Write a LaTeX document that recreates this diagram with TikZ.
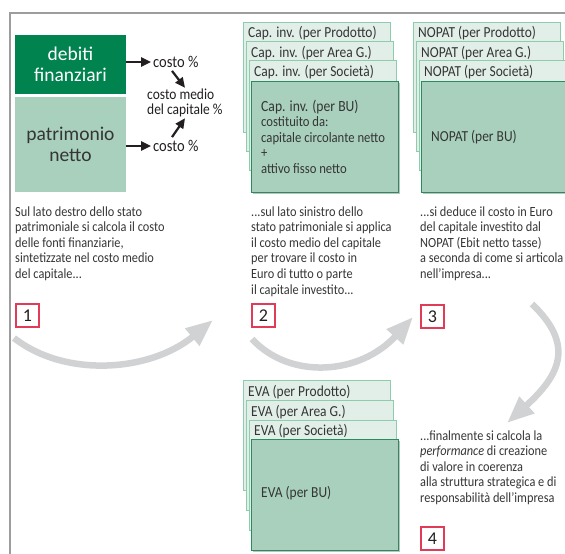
\documentclass[tikz,border=0pt]{standalone}
\usepackage{fontspec}
\setmainfont{Carlito}[FakeStretch=0.88]
\newfontfamily\bigfont{Carlito}
\usetikzlibrary{arrows.meta,shadows,calc}
\definecolor{dkgreen}{HTML}{00834F}
\definecolor{midgreen}{HTML}{A8D0BD}
\definecolor{palegreen}{HTML}{E1EFE8}
\definecolor{edgegreen}{HTML}{8FCCAD}
\definecolor{bugreen}{HTML}{2A8C5E}
\definecolor{numred}{HTML}{E03C58}
\definecolor{arrgray}{HTML}{D1D2D4}
\definecolor{framegray}{HTML}{9D9D9D}
\definecolor{txt}{HTML}{353535}
\definecolor{blk}{HTML}{231F20}
\tikzset{
  backbox/.style={draw=edgegreen, fill=palegreen, line width=0.9pt, anchor=north west,
    minimum width=147pt, minimum height=110pt, inner sep=0pt, outer sep=0pt},
  bubox/.style={draw=bugreen, fill=midgreen, line width=1pt, anchor=north west,
    minimum width=147pt, minimum height=111pt, inner sep=0pt, outer sep=0pt,
    drop shadow={shadow xshift=1.5pt, shadow yshift=-2pt, opacity=0.35, fill=black!70}},
  hdr/.style={anchor=base west, inner sep=0pt, text=txt, font=\fontsize{15.3}{15.3}\selectfont},
  butext/.style={anchor=base west, inner sep=0pt, text=txt, align=left, font=\fontsize{14.4}{15.5}\selectfont},
  para/.style={anchor=base west, inner sep=0pt, text=txt, align=left, font=\fontsize{14}{15.6}\selectfont},
  numbox/.style={draw=numred, line width=1.7pt, anchor=north west, minimum size=23pt,
    inner sep=0pt, text=blk, font=\bigfont\fontsize{18}{18}\selectfont},
  bigbox/.style={anchor=north west, minimum width=111pt, inner sep=0pt, outer sep=0pt,
    align=center, font=\bigfont\fontsize{19.5}{20.5}\selectfont},
  small/.style={inner sep=0pt, text=blk, font=\fontsize{16.5}{14}\selectfont},
  blkarrow/.style={draw=blk, line width=2.4pt, -{Triangle[length=10pt,width=9pt]}},
  bigarrow/.style={draw=arrgray, line width=6.5pt, -{Triangle[length=27pt,width=21pt]}},
}
\begin{document}
\begin{tikzpicture}[x=1pt,y=-1pt]
\useasboundingbox (0,0) rectangle (565,554);
\clip (0,0) rectangle (565,554);
% frame
\draw[framegray, line width=1.3pt] (566,13) -- (10,13) -- (10,555);

% ---- section 1
\node[bigbox, fill=dkgreen, text=white, minimum height=59pt] (debiti) at (15,35) {debiti\\finanziari};
\node[bigbox, fill=midgreen, text=txt, minimum height=95pt] (patr) at (15,97) {patrimonio\\netto};
\node[small, anchor=west] (c1) at (153,62) {costo \%};
\node[small, anchor=west] (c2) at (153,146) {costo \%};
\node[small, anchor=west, align=left, font=\fontsize{15.3}{15}\selectfont] (cm) at (147,103) {costo medio\\del capitale \%};
\draw[blkarrow, shorten >=2pt] (debiti.east |- c1.west) -- (c1.west);
\draw[blkarrow, shorten >=2pt] (patr.east |- c2.west) -- (c2.west);
\draw[blkarrow, line width=2.2pt] ([shift={(19,3)}]c1.south west) -- ([shift={(38,-1)}]cm.north west);
\draw[blkarrow, line width=2.2pt] ([shift={(19,-3)}]c2.north west) -- ([shift={(38,1)}]cm.south west);

% multi-line nodes: base anchor is the baseline of the last line
\node[para] (p1) at (15,278.4) {Sul lato destro dello stato\\patrimoniale si calcola il costo\\delle fonti finanziarie,\\sintetizzate nel costo medio\\del capitale...};
\node[numbox] (n1) at (15,303) {1};

% ---- section 2: capitale investito
\node[backbox] (capP) at (243,22) {};
\node[hdr] (capPt) at (248,37.5) {Cap. inv. (per Prodotto)};
\node[backbox] (capA) at (246,41) {};
\node[hdr] (capAt) at (251,57) {Cap. inv. (per Area G.)};
\node[backbox] (capS) at (249,60) {};
\node[hdr] (capSt) at (254,76) {Cap. inv. (per Società)};
\node[bubox] (capBU) at (251,81) {};
\node[butext] (capBUt) at (261,173) {{\fontsize{15.5}{15.5}\selectfont Cap. inv. (per BU)}\\costituito da:\\capitale circolante netto\\+\\attivo fisso netto};

\node[para] (p2) at (251,294) {...sul lato sinistro dello\\stato patrimoniale si applica\\il costo medio del capitale\\per trovare il costo in\\Euro di tutto o parte\\il capitale investito...};
\node[numbox] (n2) at (251,303) {2};

% ---- section 3: NOPAT
\node[backbox] (nopP) at (413,22) {};
\node[hdr] (nopPt) at (418,37.5) {NOPAT (per Prodotto)};
\node[backbox] (nopA) at (416,41) {};
\node[hdr] (nopAt) at (421,57) {NOPAT (per Area G.)};
\node[backbox] (nopS) at (419,60) {};
\node[hdr] (nopSt) at (424,76) {NOPAT (per Società)};
\node[bubox, minimum width=170pt] (nopBU) at (421,81) {};
\node[hdr] (nopBUt) at (431,141) {NOPAT (per BU)};

\node[para] (p3) at (420,278.4) {...si deduce il costo in Euro\\del capitale investito dal\\NOPAT (Ebit netto tasse)\\a seconda di come si articola\\nell'impresa...};
\node[numbox] (n3) at (420,304) {3};

% ---- section 4: EVA
\node[backbox] (evaP) at (243,380) {};
\node[hdr] (evaPt) at (248,396) {EVA (per Prodotto)};
\node[backbox] (evaA) at (246,400) {};
\node[hdr] (evaAt) at (251,416) {EVA (per Area G.)};
\node[backbox] (evaS) at (249,420) {};
\node[hdr] (evaSt) at (254,435.5) {EVA (per Società)};
\node[bubox] (evaBU) at (251,439) {};
\node[hdr] (evaBUt) at (261,497) {EVA (per BU)};

\node[para] (p4) at (420,502.4) {...finalmente si calcola la\\\textit{performance} di creazione\\di valore in coerenza\\alla struttura strategica e di\\responsabilità dell'impresa};
\node[numbox] (n4) at (420,526) {4};

% ---- gray flow arrows
\coordinate (g1s) at (14,338);
\coordinate (g1e) at (213,320);
\coordinate (g2s) at (252,339);
\coordinate (g2e) at (413,317);
\coordinate (g3s) at (532,304);
\coordinate (g3e) at (507,423);
\draw[bigarrow] (g1s) .. controls (65,378) and (150,372) .. (g1e);
\draw[bigarrow] (g2s) .. controls (290,380) and (360,375) .. (g2e);
\draw[bigarrow] (g3s) .. controls (575,345) and (560,375) .. (g3e);
\end{tikzpicture}
\end{document}
